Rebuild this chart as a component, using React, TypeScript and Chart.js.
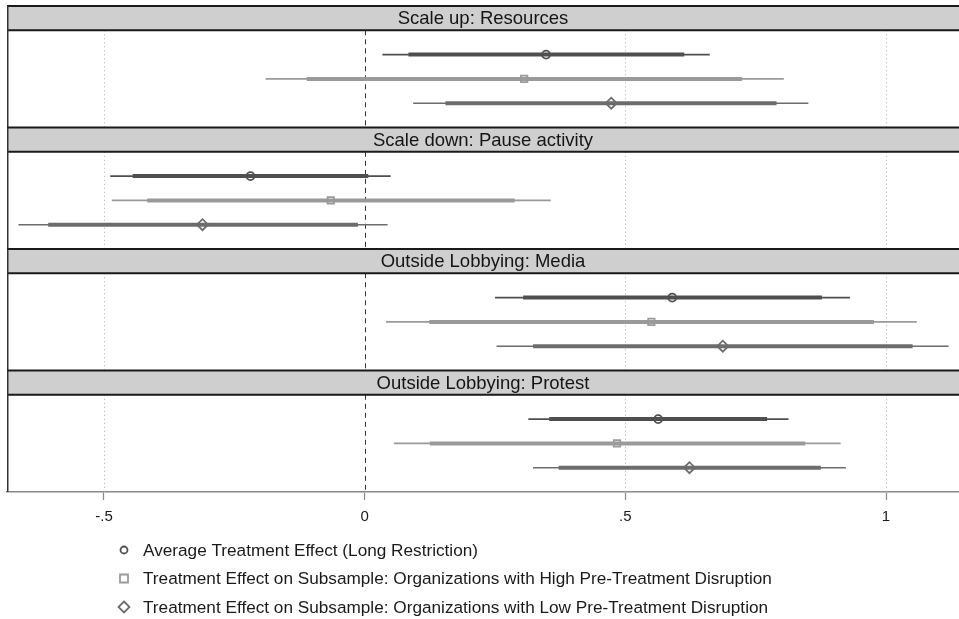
import React, { useEffect, useRef } from 'react';
import { Chart, registerables } from 'chart.js';
Chart.register(...registerables);

const PANELS = [
  'Scale up: Resources',
  'Scale down: Pause activity',
  'Outside Lobbying: Media',
  'Outside Lobbying: Protest',
];
const SERIES = [
  'Average Treatment Effect (Long Restriction)',
  'Treatment Effect on Subsample: Organizations with High Pre-Treatment Disruption',
  'Treatment Effect on Subsample: Organizations with Low Pre-Treatment Disruption',
];

// values per panel (Resources, Pause, Media, Protest)
const ATE_EST = [0.348, -0.219, 0.590, 0.563];
const ATE_CI90_LO = [0.084, -0.445, 0.304, 0.354];
const ATE_CI90_HI = [0.613, 0.007, 0.877, 0.772];
const ATE_CI95_LO = [0.034, -0.488, 0.250, 0.314];
const ATE_CI95_HI = [0.662, 0.050, 0.931, 0.813];

const HIGH_EST = [0.306, -0.065, 0.550, 0.484];
const HIGH_CI90_LO = [-0.111, -0.417, 0.124, 0.125];
const HIGH_CI90_HI = [0.724, 0.288, 0.977, 0.845];
const HIGH_CI95_LO = [-0.190, -0.485, 0.041, 0.056];
const HIGH_CI95_HI = [0.804, 0.357, 1.059, 0.913];

const LOW_EST = [0.473, -0.311, 0.687, 0.623];
const LOW_CI90_LO = [0.155, -0.607, 0.323, 0.372];
const LOW_CI90_HI = [0.790, -0.013, 1.051, 0.875];
const LOW_CI95_LO = [0.093, -0.664, 0.253, 0.323];
const LOW_CI95_HI = [0.851, 0.044, 1.120, 0.923];

const X_TICKS = [-0.5, 0, 0.5, 1];
const X_TICK_LABELS = ['-.5', '0', '.5', '1'];

const SERIES_DATA = [
  { est: ATE_EST, lo90: ATE_CI90_LO, hi90: ATE_CI90_HI, lo95: ATE_CI95_LO, hi95: ATE_CI95_HI },
  { est: HIGH_EST, lo90: HIGH_CI90_LO, hi90: HIGH_CI90_HI, lo95: HIGH_CI95_LO, hi95: HIGH_CI95_HI },
  { est: LOW_EST, lo90: LOW_CI90_LO, hi90: LOW_CI90_HI, lo95: LOW_CI95_LO, hi95: LOW_CI95_HI },
];
const COLORS = ['#4f4f4f', '#9a9a9a', '#6c6c6c'];
const POINT_STYLES = ['circle', 'rect', 'rectRot'];
const POINT_RADII = [4, 4.5, 5.5];

const FONT = "'Liberation Sans', Arial, sans-serif";
const UNITS_PER_PANEL = 5; // header = 1 unit, plot = 4 units, rows at 2,3,4

function rowY(panel: number, s: number) {
  return panel * UNITS_PER_PANEL + 2 + s;
}

const panelPlugin = {
  id: 'panels',
  beforeDatasetsDraw(chart: any) {
    const { ctx, chartArea } = chart;
    const ys = chart.scales.y;
    const xs = chart.scales.x;
    const L = chartArea.left, R = chartArea.right;
    ctx.save();
    PANELS.forEach((title, p) => {
      const top = ys.getPixelForValue(p * UNITS_PER_PANEL);
      const hb = ys.getPixelForValue(p * UNITS_PER_PANEL + 1);
      const bot = ys.getPixelForValue((p + 1) * UNITS_PER_PANEL);
      X_TICKS.forEach((v) => {
        const x = Math.round(xs.getPixelForValue(v)) + 0.5;
        ctx.beginPath();
        if (v === 0) {
          ctx.setLineDash([5, 4]);
          ctx.strokeStyle = '#333';
        } else {
          ctx.setLineDash([1, 3]);
          ctx.strokeStyle = '#b0b0b0';
        }
        ctx.lineWidth = 1;
        ctx.moveTo(x, hb);
        ctx.lineTo(x, bot);
        ctx.stroke();
      });
      ctx.setLineDash([]);
      ctx.fillStyle = '#cfcfcf';
      ctx.fillRect(L, top, R - L, hb - top);
      ctx.strokeStyle = '#1a1a1a';
      ctx.lineWidth = 2;
      ctx.beginPath();
      ctx.moveTo(L, top);
      ctx.lineTo(R, top);
      ctx.moveTo(L, hb);
      ctx.lineTo(R, hb);
      ctx.stroke();
      ctx.lineWidth = 1.5;
      ctx.strokeStyle = '#333';
      ctx.beginPath();
      ctx.moveTo(L + 0.75, top);
      ctx.lineTo(L + 0.75, bot);
      ctx.stroke();
      ctx.fillStyle = '#151515';
      ctx.font = `18.5px ${FONT}`;
      ctx.textAlign = 'center';
      ctx.textBaseline = 'middle';
      ctx.fillText(title, (L + R) / 2, (top + hb) / 2 + 1);
    });
    ctx.restore();
  },
  afterDraw(chart: any) {
    const { ctx, chartArea } = chart;
    ctx.save();
    SERIES.forEach((label, i) => {
      const y = chartArea.bottom + 58 + i * 28.5;
      const mx = 124;
      ctx.strokeStyle = COLORS[i];
      ctx.lineWidth = 1.8;
      ctx.beginPath();
      if (i === 0) {
        ctx.arc(mx, y, 3.5, 0, Math.PI * 2);
      } else if (i === 1) {
        ctx.rect(mx - 4, y - 4, 8, 8);
      } else {
        ctx.moveTo(mx, y - 5.5);
        ctx.lineTo(mx + 5.5, y);
        ctx.lineTo(mx, y + 5.5);
        ctx.lineTo(mx - 5.5, y);
        ctx.closePath();
      }
      ctx.stroke();
      ctx.fillStyle = '#1a1a1a';
      ctx.font = `17.2px ${FONT}`;
      ctx.textAlign = 'left';
      ctx.textBaseline = 'middle';
      ctx.fillText(label, 143, y + 1);
    });
    ctx.restore();
  },
};

export default function App() {
  const ref = useRef<HTMLCanvasElement>(null);
  useEffect(() => {
    if (!ref.current) return;
    const datasets: any[] = [];
    SERIES_DATA.forEach((sd, s) => {
      PANELS.forEach((_, p) => {
        const y = rowY(p, s);
        datasets.push({
          label: `${SERIES[s]} 95% ${p}`,
          data: [{ x: sd.lo95[p], y }, { x: sd.hi95[p], y }],
          showLine: true,
          borderColor: COLORS[s],
          borderWidth: 1.6,
          pointRadius: 0,
          order: 3,
        });
        datasets.push({
          label: `${SERIES[s]} 90% ${p}`,
          data: [{ x: sd.lo90[p], y }, { x: sd.hi90[p], y }],
          showLine: true,
          borderColor: COLORS[s],
          borderWidth: 4,
          borderCapStyle: 'butt',
          pointRadius: 0,
          order: 2,
        });
      });
      datasets.push({
        label: SERIES[s],
        data: PANELS.map((_, p) => ({ x: sd.est[p], y: rowY(p, s) })),
        showLine: false,
        pointStyle: POINT_STYLES[s],
        pointRadius: POINT_RADII[s],
        pointBorderWidth: 1.8,
        pointBorderColor: COLORS[s],
        pointBackgroundColor: 'rgba(0,0,0,0)',
        order: 1,
      });
    });

    const chart = new Chart(ref.current, {
      type: 'scatter',
      data: { datasets },
      plugins: [panelPlugin],
      options: {
        animation: false,
        responsive: false,
        maintainAspectRatio: false,
        devicePixelRatio: 1,
        layout: { autoPadding: false, padding: { left: 7, right: 0, top: 6, bottom: 85 } },
        plugins: { legend: { display: false }, tooltip: { enabled: false } },
        scales: {
          x: {
            type: 'linear',
            min: -0.686,
            max: 1.14,
            afterBuildTicks: (scale: any) => {
              scale.ticks = X_TICKS.map((v) => ({ value: v }));
            },
            ticks: {
              padding: 8,
              color: '#1a1a1a',
              font: { family: FONT, size: 15 },
              callback: (v: any) => {
                const i = X_TICKS.indexOf(Number(v));
                return i >= 0 ? X_TICK_LABELS[i] : '';
              },
            },
            grid: {
              drawOnChartArea: false,
              drawTicks: true,
              tickLength: 8,
              tickColor: '#888',
              tickWidth: 1.2,
            },
            border: { display: true, color: '#888', width: 1.5 },
          },
          y: {
            type: 'linear',
            min: 0,
            max: PANELS.length * UNITS_PER_PANEL,
            reverse: true,
            display: false,
          },
        },
      },
    });
    return () => chart.destroy();
  }, []);
  return (
    <div style={{ position: 'absolute', left: 0, top: 0, width: 959, height: 619, background: '#fff' }}>
      <canvas ref={ref} width={959} height={619} style={{ display: 'block', width: 959, height: 619 }} />
    </div>
  );
}
